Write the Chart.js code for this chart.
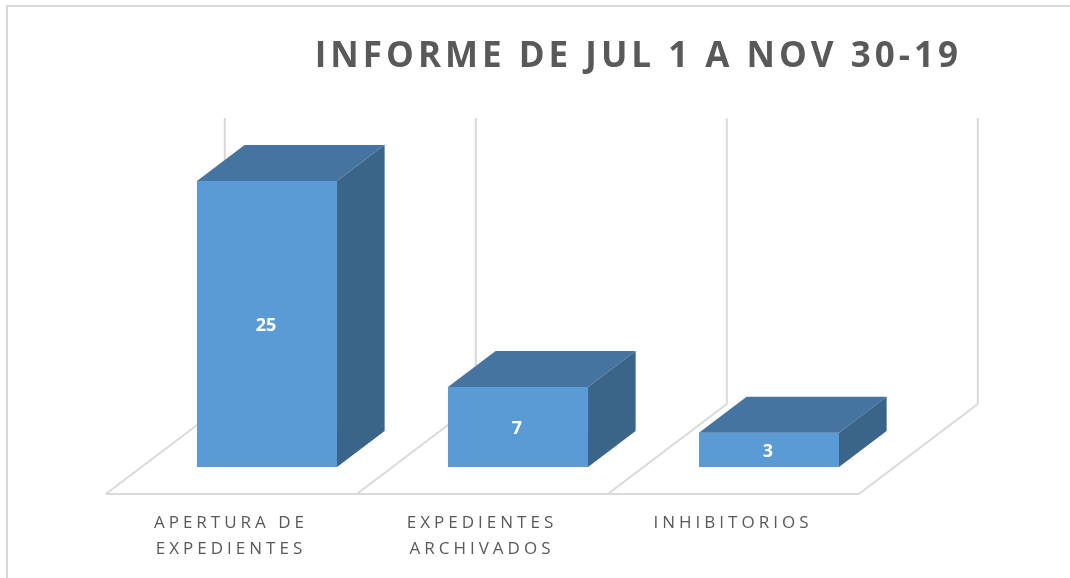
<!DOCTYPE html>
<html>
<head>
<meta charset="utf-8">
<script src="https://cdn.jsdelivr.net/npm/chart.js@4/dist/chart.umd.min.js"></script>
<style>
html,body{margin:0;padding:0;background:#fff;overflow:hidden}
#wrap{position:relative;width:1070px;height:578px;background:#fff}
#frame{position:absolute;left:6px;top:5px;width:1100px;height:620px;border-left:2px solid #d9d9d9;border-top:2px solid #d9d9d9;pointer-events:none;z-index:2}
canvas{position:absolute;left:0;top:0}
</style>
</head>
<body>
<div id="wrap">
<canvas id="c" width="1070" height="578"></canvas>
<div id="frame"></div>
</div>
<script>
// ---- data ----
const titleText = "INFORME DE JUL 1 A NOV 30-19";
const categories = [["APERTURA DE", "EXPEDIENTES"], ["EXPEDIENTES", "ARCHIVADOS"], "INHIBITORIOS"];
const values = [25, 7, 3];
const axisMin = 0;
const axisMax = 25;

// ---- 3D look (depth vector of the floor, in px) ----
const DX = 119, DY = -90;
const FRONT = -0.3, BACK = 0.7, BAR_DEPTH = 0.4;

const spacing = {
  id: 'spacing',
  beforeDraw(chart) { chart.ctx.letterSpacing = '4px'; }
};

const depth3d = {
  id: 'depth3d',
  beforeDatasetsDraw(chart) {
    const {ctx, scales: {x, y}} = chart;
    const n = categories.length;
    const catW = x.width / n;
    const baseY = y.getPixelForValue(axisMin);
    const topY = y.getPixelForValue(axisMax);
    ctx.save();
    ctx.strokeStyle = '#d9d9d9';
    ctx.lineWidth = 2;
    ctx.lineJoin = 'round';
    ctx.beginPath();
    ctx.moveTo(x.getPixelForValue(0) - catW / 2 + FRONT * DX, baseY + FRONT * DY);
    ctx.lineTo(x.getPixelForValue(n - 1) + catW / 2 + FRONT * DX, baseY + FRONT * DY);
    for (let i = 0; i <= n; i++) {
      const bx = (i < n ? x.getPixelForValue(i) - catW / 2 : x.getPixelForValue(n - 1) + catW / 2);
      ctx.moveTo(bx + FRONT * DX, baseY + FRONT * DY);
      ctx.lineTo(bx + BACK * DX, baseY + BACK * DY);
      ctx.lineTo(bx + BACK * DX, topY + BACK * DY);
    }
    ctx.stroke();
    ctx.restore();
  },
  afterDatasetsDraw(chart) {
    const {ctx} = chart;
    const meta = chart.getDatasetMeta(0);
    const dx = BAR_DEPTH * DX, dy = BAR_DEPTH * DY;
    ctx.save();
    meta.data.forEach((bar, i) => {
      const {x, y, base, width} = bar.getProps(['x', 'y', 'base', 'width'], true);
      const l = x - width / 2, r = x + width / 2;
      ctx.fillStyle = '#44749f';
      ctx.beginPath();
      ctx.moveTo(l, y); ctx.lineTo(l + dx, y + dy); ctx.lineTo(r + dx, y + dy); ctx.lineTo(r, y);
      ctx.closePath(); ctx.fill();
      ctx.fillStyle = '#3a6588';
      ctx.beginPath();
      ctx.moveTo(r, y); ctx.lineTo(r + dx, y + dy); ctx.lineTo(r + dx, base + dy); ctx.lineTo(r, base);
      ctx.closePath(); ctx.fill();
      ctx.letterSpacing = '0px';
      ctx.fillStyle = '#ffffff';
      ctx.font = 'bold 18px "Open Sans"';
      ctx.textAlign = 'center';
      ctx.textBaseline = 'middle';
      ctx.fillText(String(values[i]), x - 1, (y + base) / 2 + 2);
    });
    ctx.restore();
  }
};

new Chart(document.getElementById('c'), {
  type: 'bar',
  data: {
    labels: categories,
    datasets: [{
      data: values,
      backgroundColor: '#5b9bd5',
      borderWidth: 0,
      categoryPercentage: 1,
      barPercentage: 0.558
    }]
  },
  options: {
    responsive: false,
    animation: false,
    devicePixelRatio: 1,
    layout: { padding: { left: 141.5, right: 108, top: 0, bottom: 0 } },
    plugins: {
      legend: { display: false },
      tooltip: { enabled: false },
      title: {
        display: true,
        text: titleText,
        align: 'end',
        color: '#595959',
        font: { family: '"Open Sans"', size: 35, weight: 'bold', lineHeight: 1.2 },
        padding: { top: 35.6, bottom: 103.4 }
      }
    },
    scales: {
      x: {
        grid: { display: false, drawTicks: false },
        border: { display: false },
        ticks: {
          color: '#595959',
          font: { family: '"Open Sans"', size: 17, lineHeight: 1.53 },
          padding: 43,
          labelOffset: -36,
          maxRotation: 0,
          autoSkip: false
        },
        afterFit(scale) { scale.height = 111; }
      },
      y: {
        position: 'right',
        min: axisMin,
        max: axisMax,
        grid: { display: false, drawTicks: false },
        border: { display: false },
        ticks: { display: false },
        afterFit(scale) { scale.width = 67.5; }
      }
    }
  },
  plugins: [spacing, depth3d]
});
</script>
</body>
</html>
